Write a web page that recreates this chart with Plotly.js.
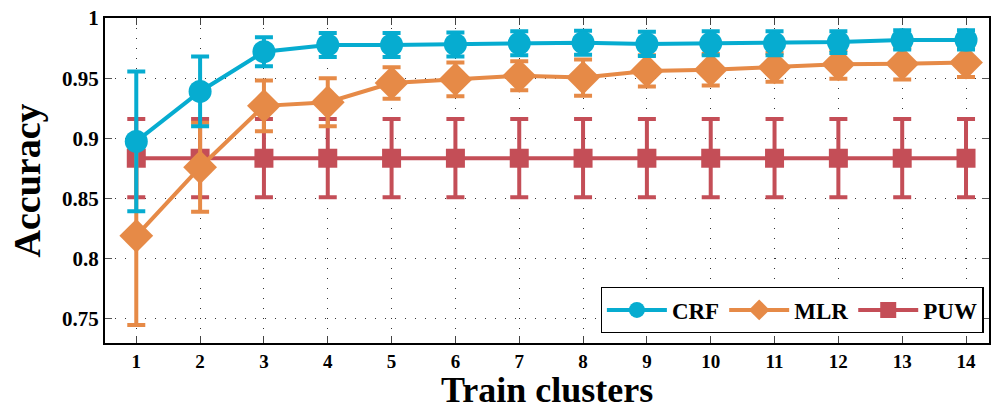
<!DOCTYPE html>
<html><head><meta charset="utf-8">
<script src="https://cdn.plot.ly/plotly-3.0.1.min.js"></script>
<style>body{margin:0;padding:0;background:#fff}#chart{width:991px;height:411px}</style>
</head><body><div id="chart"></div>
<script>
const clusters = [1,2,3,4,5,6,7,8,9,10,11,12,13,14];
const crfAcc = [0.8975,0.939,0.972,0.9776,0.9776,0.978,0.979,0.9795,0.9785,0.979,0.979,0.980,0.9818,0.9818];
const crfErr = [0.058,0.029,0.012,0.010,0.010,0.010,0.010,0.010,0.010,0.010,0.010,0.009,0.008,0.008];
const mlrAcc = [0.819,0.876,0.927,0.930,0.946,0.949,0.952,0.9505,0.956,0.957,0.959,0.9615,0.962,0.963];
const mlrErr = [0.074,0.037,0.021,0.020,0.013,0.014,0.012,0.015,0.013,0.013,0.012,0.012,0.013,0.012];
const puwAcc = [0.8835,0.8835,0.8835,0.8835,0.8835,0.8835,0.8835,0.8835,0.8835,0.8835,0.8835,0.8835,0.8835,0.8835];
const puwErr = [0.0325,0.0325,0.0325,0.0325,0.0325,0.0325,0.0325,0.0325,0.0325,0.0325,0.0325,0.0325,0.0325,0.0325];
const seriesNames = ['CRF','MLR','PUW'];
const colors = ['#06acd0','#e68a47','#c44e57'];
const xTitle = 'Train clusters';
const yTitle = 'Accuracy';

function tr(i, y, e, sym, size){
  return {x: clusters, y: y, name: seriesNames[i], type:'scatter', mode:'lines+markers',
    line:{color:colors[i], width:4},
    marker:{symbol:sym, size:size, color:colors[i]},
    error_y:{type:'data', array:e, visible:true, color:colors[i], thickness:4, width:9}};
}
const data = [
  tr(2, puwAcc, puwErr, 'square', 19),
  tr(1, mlrAcc, mlrErr, 'diamond', 26),
  tr(0, crfAcc, crfErr, 'circle', 23)
];
const fnt = {family:'"Liberation Serif", "Times New Roman", serif', color:'#000'};
const layout = {
  width:991, height:411,
  margin:{l:105, r:2, t:18, b:68},
  paper_bgcolor:'#fff', plot_bgcolor:'#fff',
  showlegend:true,
  legend:{orientation:'h', x:0.994, xanchor:'right', y:0.03, yanchor:'bottom',
    bgcolor:'#fff', bordercolor:'#000', borderwidth:1.2, traceorder:'reversed',
    font:Object.assign({}, fnt, {size:23, weight:'bold'}), itemwidth:60},
  xaxis:{range:[0.51,14.36], tickvals:clusters, ticktext:clusters.map(String),
    ticks:'inside', ticklen:7, tickcolor:'#444', mirror:'ticks', showline:true, linecolor:'#000', linewidth:2,
    showgrid:true, gridcolor:'#333', griddash:'1px,9px', gridwidth:1, zeroline:false,
    tickfont:Object.assign({}, fnt, {size:19, weight:'bold'})},
  yaxis:{range:[0.73,1], dtick:0.05, tick0:0.75,
    ticks:'inside', ticklen:7, tickcolor:'#555', mirror:'ticks', showline:true, linecolor:'#000', linewidth:2,
    showgrid:true, gridcolor:'#333', griddash:'1px,9px', gridwidth:1, zeroline:false,
    tickfont:Object.assign({}, fnt, {size:21, weight:'bold'}),
    title:{text:yTitle, font:Object.assign({}, fnt, {size:38, weight:'bold'}), standoff:10}},
  annotations:[{text:xTitle, xref:'paper', yref:'paper', x:0.5, y:-0.209, xanchor:'center', yanchor:'bottom',
    yshift:0, borderpad:0, showarrow:false, font:Object.assign({}, fnt, {size:36, weight:'bold'})}]
};
Plotly.newPlot('chart', data, layout, {displayModeBar:false});
</script></body></html>
